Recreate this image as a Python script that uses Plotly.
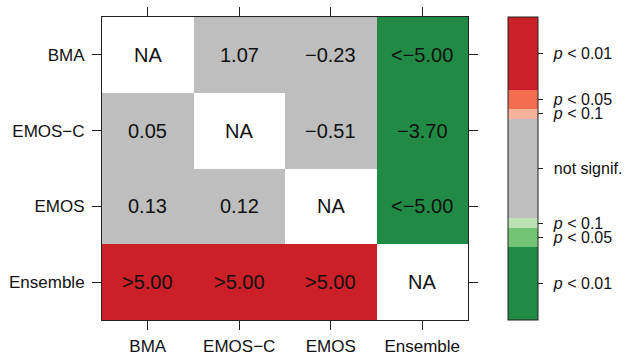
import plotly.graph_objects as go

models = ["BMA", "EMOS\u2212C", "EMOS", "Ensemble"]

# colour value per cell (rows top->bottom, cols left->right); None = NA, clipped at +-5
z_values = [
    [None, 1.07, -0.23, -5.0],
    [0.05, None, -0.51, -3.70],
    [0.13, 0.12, None, -5.0],
    [5.0, 5.0, 5.0, None],
]
cell_labels = [
    ["NA", "1.07", "\u22120.23", "<\u22125.00"],
    ["0.05", "NA", "\u22120.51", "\u22123.70"],
    ["0.13", "0.12", "NA", "<\u22125.00"],
    [">5.00", ">5.00", ">5.00", "NA"],
]

# significance breaks on z scale (two-sided normal quantiles)
breaks = [-5.0, -2.576, -1.96, -1.645, 1.645, 1.96, 2.576, 5.0]
band_colors = ["#218B45", "#74C476", "#BBE1B5", "#BEBEBE", "#FAB19A", "#F46D4E", "#CB2027"]
cb_tickvals = [3.788, 2.268, 1.8025, 0.0, -1.8025, -2.268, -3.788]
cb_ticktext = ["<i>p</i> &lt; 0.01", "<i>p</i> &lt; 0.05", "<i>p</i> &lt; 0.1", "not signif.",
               "<i>p</i> &lt; 0.1", "<i>p</i> &lt; 0.05", "<i>p</i> &lt; 0.01"]

zmin, zmax = breaks[0], breaks[-1]
colorscale = []
for i, c in enumerate(band_colors):
    lo = (breaks[i] - zmin) / (zmax - zmin)
    hi = (breaks[i + 1] - zmin) / (zmax - zmin)
    colorscale.append([lo, c])
    colorscale.append([hi, c])

pad = "\u00a0\u2009"  # small gap between colorbar ticks and their labels

fig = go.Figure()
fig.add_trace(go.Heatmap(
    z=z_values, x=models, y=models,
    zmin=zmin, zmax=zmax, colorscale=colorscale,
    xgap=0, ygap=0, hoverinfo="skip",
    colorbar=dict(
        x=(508 - 102) / 366, xanchor="left", xpad=0,
        y=0.5, yanchor="middle", ypad=0,
        len=1, lenmode="fraction", thickness=30, thicknessmode="pixels",
        outlinewidth=1, outlinecolor="#222222",
        tickmode="array", tickvals=cb_tickvals, ticktext=[pad + t for t in cb_ticktext],
        ticks="outside", ticklen=5, tickcolor="#222222", tickwidth=1,
        tickfont=dict(size=16, color="#111111"),
    ),
))

for i, row in enumerate(cell_labels):
    for j, lab in enumerate(row):
        fig.add_annotation(x=models[j], y=models[i], text=lab, showarrow=False,
                           font=dict(size=20, color="#111111"))

axis_common = dict(
    showline=True, linecolor="#222222", linewidth=1, mirror="ticks",
    ticks="outside", ticklen=9, tickcolor="#222222", tickwidth=1,
    showgrid=False, zeroline=False, tickfont=dict(size=17, color="#111111"),
    automargin=False,
)
fig.update_xaxes(**axis_common, ticklabelstandoff=2)
fig.update_yaxes(**axis_common, autorange="reversed", ticklabelstandoff=4)

fig.update_layout(
    width=625, height=357,
    margin=dict(l=102, r=157, t=17, b=37, autoexpand=False),
    paper_bgcolor="white", plot_bgcolor="white",
    font=dict(family="Liberation Sans, Arial, sans-serif", size=17, color="#111111"),
)

fig.write_html(
    "out.html",
    config={"displayModeBar": False, "staticPlot": True},
    post_script="document.body.style.margin='0';document.body.style.overflow='hidden';",
)
